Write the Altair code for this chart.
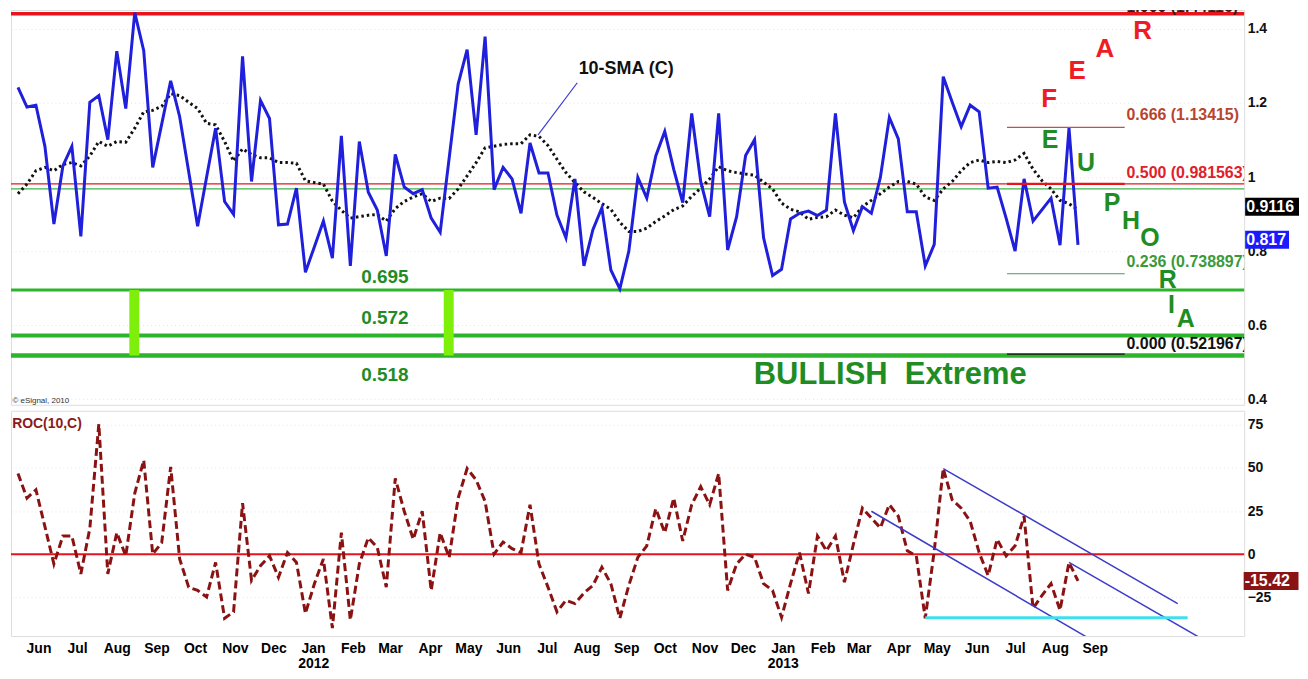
import altair as alt
import pandas as pd

START = "2011-05-16"  # first weekly bar

# ---- weekly series ----
price = [1.242, 1.189, 1.194, 1.083, 0.873, 1.030, 1.083, 0.840, 1.202, 1.220,
         1.101, 1.340, 1.185, 1.444, 1.341, 1.026, 1.143, 1.260, 1.163, 1.015,
         0.867, 1.000, 1.132, 0.934, 0.899, 1.326, 0.988, 1.207, 1.158, 0.871,
         0.873, 0.970, 0.743, 0.812, 0.881, 0.781, 1.111, 0.760, 1.096, 0.959,
         0.911, 0.787, 1.061, 0.973, 0.955, 0.966, 0.889, 0.851, 1.051, 1.251,
         1.344, 1.114, 1.379, 0.966, 1.026, 0.995, 0.902, 1.092, 1.011, 1.011,
         0.897, 0.836, 0.995, 0.760, 0.858, 0.917, 0.749, 0.698, 0.800, 0.999,
         0.943, 1.057, 1.123, 1.021, 0.931, 1.172, 0.988, 0.893, 1.172, 0.803,
         0.893, 1.058, 1.101, 0.836, 0.734, 0.751, 0.887, 0.902, 0.908, 0.896,
         0.911, 1.172, 0.933, 0.855, 0.920, 0.902, 0.999, 1.161, 1.103, 0.906,
         0.906, 0.760, 0.818, 1.271, 1.202, 1.136, 1.194, 1.176, 0.970, 0.973,
         0.889, 0.800, 0.995, 0.881, 0.912, 0.943, 0.816, 1.132, 0.817]

sma10 = [0.955, 0.981, 1.017, 1.026, 1.017, 1.034, 1.039, 1.030, 1.057, 1.096,
         1.083, 1.096, 1.094, 1.132, 1.176, 1.180, 1.191, 1.225, 1.220, 1.202,
         1.185, 1.145, 1.141, 1.096, 1.043, 1.076, 1.061, 1.052, 1.052, 1.039,
         1.039, 1.037, 0.990, 0.985, 0.981, 0.935, 0.910, 0.889, 0.893, 0.897,
         0.899, 0.881, 0.915, 0.934, 0.946, 0.955, 0.934, 0.943, 0.942, 0.968,
         1.003, 1.039, 1.079, 1.083, 1.088, 1.090, 1.090, 1.114, 1.110, 1.085,
         1.048, 1.012, 0.985, 0.960, 0.945, 0.928, 0.913, 0.878, 0.853, 0.853,
         0.862, 0.880, 0.895, 0.912, 0.922, 0.948, 0.970, 0.995, 1.028, 1.017,
         1.012, 1.008, 1.005, 0.986, 0.968, 0.930, 0.913, 0.906, 0.886, 0.891,
         0.893, 0.911, 0.897, 0.890, 0.920, 0.937, 0.955, 0.973, 0.988, 0.988,
         0.981, 0.946, 0.937, 0.968, 0.988, 1.017, 1.039, 1.046, 1.039, 1.042,
         1.039, 1.046, 1.064, 1.021, 0.990, 0.968, 0.937, 0.928, 0.9116]

roc10 = [46.7, 32.5, 37.3, 16.0, -5.6, 10.6, 10.6, -11.3, 15.0, 75.3,
         -11.3, 12.5, -0.9, 35.3, 54.4, 0.1, 6.7, 50.6, -2.7, -19.0,
         -20.9, -24.7, -4.7, -37.0, -33.3, 29.6, -15.1, -6.6, -0.9, -13.3,
         1.0, -4.7, -34.2, -17.0, -2.7, -42.7, 12.5, -38.0, -5.6, 9.6,
         3.9, -19.0, 43.9, 24.9, 8.7, 24.9, -20.9, 12.5, -1.8, 32.5,
         49.6, 43.0, 30.6, 0.1, 7.1, 3.3, 1.0, 28.7, -5.6, -19.0,
         -33.3, -26.6, -28.5, -22.4, -18.0, -7.5, -17.0, -37.0, -18.0, -1.8,
         4.9, 26.4, 12.5, 32.5, 7.7, 28.7, 39.1, 28.7, 46.7, -20.9,
         -5.6, 0.1, -1.8, -17.0, -20.9, -36.5, -17.0, 1.0, -22.7, 10.6,
         2.0, 10.6, -16.1, 5.8, 26.7, 21.0, 15.3, 28.7, 22.0, 2.0,
         -0.9, -37.0, 2.0, 49.6, 31.5, 26.7, 19.1, 1.0, -12.3, 8.7,
         -0.9, 4.9, 22.0, -31.3, -23.7, -17.0, -32.3, -4.7, -15.42]

month_ticks = ["2011-06-01", "2011-07-01", "2011-08-01", "2011-09-01", "2011-10-01",
               "2011-11-01", "2011-12-01", "2012-01-01", "2012-02-01", "2012-03-01",
               "2012-04-01", "2012-05-01", "2012-06-01", "2012-07-01", "2012-08-01",
               "2012-09-01", "2012-10-01", "2012-11-01", "2012-12-01", "2013-01-01",
               "2013-02-01", "2013-03-01", "2013-04-01", "2013-05-01", "2013-06-01",
               "2013-07-01", "2013-08-01", "2013-09-01"]
top_ticks = [0.4, 0.6, 0.8, 1.0, 1.2, 1.4]
bottom_ticks = [-25, 0, 25, 50, 75]

# horizontal levels across the whole top panel
level_values = [1.44116, 0.981563, 0.968, 0.695, 0.572, 0.518]
level_labels = ["0.695", "0.572", "0.518"]
level_label_v = [0.7294, 0.618, 0.4642]
level_label_week = 40.84

# lime vertical bars (weeks) between 0.695 and 0.518
bar_weeks = [12.95, 47.95]

# Fibonacci retracement (short lines at the right)
fib_levels = [1.13415, 0.981563, 0.738897, 0.521967]
fib_weeks = [110.1, 123.2]
fib_texts = ["1.000 (1.44116)", "0.666 (1.13415)", "0.500 (0.981563)",
             "0.236 (0.738897)", "0.000 (0.521967)"]
fib_text_v = [1.459, 1.1671, 1.0106, 0.7719, 0.549]
fib_text_week = 123.4

fear_letters = ["F", "E", "A", "R"]
fear_week = [114.8, 117.9, 121.0, 125.2]
fear_v = [1.2095, 1.2865, 1.3448, 1.3944]
euph_letters = ["E", "U", "P", "H", "O", "R", "I", "A"]
euph_week = [114.9, 118.9, 121.8, 123.9, 126.0, 128.0, 128.4, 130.0]
euph_v = [1.0989, 1.0371, 0.9310, 0.8814, 0.8355, 0.7220, 0.6552, 0.6162]

sma_note_week, sma_note_v = 67.7, 1.2918
sma_pointer_week = [62.26, 57.9]
sma_pointer_v = [1.2546, 1.1141]
bullish_week, bullish_v = 97.1, 0.4642

# ROC channel lines: (start week, start value, end week, end value)
chan_w1 = [103.0, 95.0, 117.0]
chan_v1 = [49.6, 24.9, -4.7]
chan_w2 = [129.1, 120.0, 132.5]
chan_v2 = [-28.5, -51.0, -51.0]
cyan_weeks = [101.0, 130.2]
cyan_v = -36.7

# ---------------------------------------------------------------
FONT = "Liberation Sans, Arial, Helvetica, sans-serif"
W, H1, H2 = 1237, 396, 226
RED = "#e8141b"
GREEN_LINE = "#2cb52c"
GREEN_TXT = "#1f8c24"


def wk(w):
    return pd.Timestamp(START) + pd.Timedelta(days=7 * w)


def dt(ts):
    return alt.DateTime(year=int(ts.year), month=int(ts.month), date=int(ts.day),
                        hours=int(ts.hour), minutes=int(ts.minute))


xscale = alt.Scale(domain=[dt(wk(-0.777)), dt(wk(136.5))])
y1scale = alt.Scale(domain=[0.385, 1.451], nice=False, zero=False)
y2scale = alt.Scale(domain=[-47.3, 83.0], nice=False, zero=False)

common_y_axis = dict(orient="right", title=None, ticks=False, domain=False,
                     labelFontSize=14, labelFontWeight="bold", labelColor="#111111",
                     labelPadding=3, labelFont=FONT, grid=True, gridColor="#e4e4e4",
                     gridDash=[1, 3], gridWidth=1)
y1axis = alt.Axis(values=top_ticks, format="~g", **common_y_axis)
y2axis = alt.Axis(values=bottom_ticks, format="d", **common_y_axis)

xaxis = alt.Axis(
    values=[dt(pd.Timestamp(m)) for m in month_ticks],
    labelExpr="month(datum.value) == 0 ? [timeFormat(datum.value, '%b'), timeFormat(datum.value, '%Y')] : timeFormat(datum.value, '%b')",
    title=None, ticks=False, domain=False, grid=False, labelFontSize=14,
    labelFontWeight="bold", labelColor="#000000", labelPadding=5, labelLineHeight=16,
    labelOverlap=False, labelFlush=False, labelBound=False, labelFont=FONT)


def X1(f):
    return alt.X(f, type="temporal", scale=xscale, axis=None)


def X2(f):
    return alt.X(f, type="temporal", scale=xscale, axis=xaxis)


def Y1(f):
    return alt.Y(f, type="quantitative", scale=y1scale, axis=y1axis)


def Y2(f):
    return alt.Y(f, type="quantitative", scale=y2scale, axis=y2axis)


series = pd.DataFrame({
    "date": [wk(i) for i in range(len(price))],
    "price": price, "sma": sma10, "roc": roc10,
})


def text_layer(weeks, values, texts, X, Y, **style):
    d = pd.DataFrame({"date": [wk(w) for w in weeks], "v": values, "t": texts})
    kw = dict(font=FONT, baseline="middle", fontWeight="bold")
    kw.update(style)
    return alt.Chart(d).mark_text(**kw).encode(x=X("date"), y=Y("v"), text="t:N")


def value_box(val, label, fill, width, center_px, yoff, Y):
    d = pd.DataFrame({"v": [val], "t": [label]})
    box = alt.Chart(d).mark_tick(orient="horizontal", size=width, thickness=18,
                                 color=fill, opacity=1, yOffset=yoff).encode(
        x=alt.value(center_px), y=Y("v"))
    txt = alt.Chart(d).mark_text(align="left", baseline="middle", color="white",
                                 fontSize=16, fontWeight="bold", font=FONT,
                                 yOffset=yoff).encode(
        x=alt.value(center_px - width / 2 + 1), y=Y("v"), text="t:N")
    return [box, txt]


# ------------------------- top panel ---------------------------
level_style = [(RED, 3.5), (RED, 1.2), ("#3cb44a", 1.2),
               (GREEN_LINE, 3), (GREEN_LINE, 4), (GREEN_LINE, 4.5)]
top_layers = []
for val, (c, w) in zip(level_values, level_style):
    top_layers.append(alt.Chart(pd.DataFrame({"v": [val]})).mark_rule(
        color=c, strokeWidth=w).encode(y=Y1("v")))

bars = pd.DataFrame({"date": [wk(w) for w in bar_weeks],
                     "v": [level_values[3]] * len(bar_weeks),
                     "v2": [level_values[5]] * len(bar_weeks)})
top_layers.append(alt.Chart(bars).mark_rule(color="#7def0a", strokeWidth=10).encode(
    x=X1("date"), y=Y1("v"), y2=alt.Y2("v2")))

top_layers.append(alt.Chart(series).mark_line(
    color="#111111", strokeWidth=3, strokeDash=[2.5, 3], clip=True).encode(
    x=X1("date"), y=Y1("sma")))
top_layers.append(alt.Chart(series).mark_line(
    color="#1f1fdc", strokeWidth=3, clip=True).encode(x=X1("date"), y=Y1("price")))

fib_style = [("#c0504d", 1.2), (RED, 2.2), ("#4f9a4f", 1.2), ("#111111", 1.2)]
for val, (c, w) in zip(fib_levels, fib_style):
    d = pd.DataFrame({"date": [wk(fib_weeks[0])], "date2": [wk(fib_weeks[1])], "v": [val]})
    top_layers.append(alt.Chart(d).mark_rule(color=c, strokeWidth=w).encode(
        x=X1("date"), x2=alt.X2("date2"), y=Y1("v")))

fib_text_colors = ["#3a1a14", "#b8452e", "#e0202a", "#3a9a3a", "#111111"]
for t, v, c in zip(fib_texts, fib_text_v, fib_text_colors):
    top_layers.append(text_layer([fib_text_week], [v], [t], X1, Y1, align="left",
                                 fontSize=16, color=c, clip=True))

top_layers.append(text_layer(fear_week, fear_v, fear_letters, X1, Y1,
                             align="center", fontSize=26, color="#ee1c24"))
top_layers.append(text_layer(euph_week, euph_v, euph_letters, X1, Y1,
                             align="center", fontSize=25, color=GREEN_TXT))
top_layers.append(text_layer([level_label_week] * 3, level_label_v, level_labels, X1, Y1,
                             align="center", fontSize=19, color=GREEN_TXT))
top_layers.append(text_layer([bullish_week], [bullish_v], ["BULLISH\u00a0 Extreme"], X1, Y1,
                             align="center", fontSize=31, color=GREEN_TXT))
top_layers.append(text_layer([sma_note_week], [sma_note_v], ["10-SMA (C)"], X1, Y1,
                             align="center", fontSize=18, color="#111111"))
pointer = pd.DataFrame({"date": [wk(sma_pointer_week[0])], "date2": [wk(sma_pointer_week[1])],
                        "v": [sma_pointer_v[0]], "v2": [sma_pointer_v[1]]})
top_layers.append(alt.Chart(pointer).mark_rule(color="#3a3ad6", strokeWidth=1.2).encode(
    x=X1("date"), x2=alt.X2("date2"), y=Y1("v"), y2=alt.Y2("v2")))
top_layers.append(text_layer([-0.62], [0.395], ["\u00a9 eSignal, 2010"], X1, Y1,
                             align="left", fontSize=8, fontWeight="normal", color="#333333"))

top_layers += value_box(sma10[-1], "0.9116", "#000000", 54, 1265, -3, Y1)
top_layers += value_box(price[-1], "0.817", "#1a1aff", 44, 1260, -5, Y1)

top = alt.layer(*top_layers).properties(width=W, height=H1)

# ------------------------- bottom panel ------------------------
bot_layers = []
bot_layers.append(alt.Chart(pd.DataFrame({"v": [0]})).mark_rule(
    color=RED, strokeWidth=2).encode(y=Y2("v")))
bot_layers.append(alt.Chart(series).mark_line(
    color="#8b1212", strokeWidth=3, strokeDash=[8, 4], clip=True).encode(
    x=X2("date"), y=Y2("roc")))
chan = pd.DataFrame({"date": [wk(w) for w in chan_w1], "date2": [wk(w) for w in chan_w2],
                     "v": chan_v1, "v2": chan_v2})
bot_layers.append(alt.Chart(chan).mark_rule(color="#3c3cc8", strokeWidth=1.5, clip=True).encode(
    x=X2("date"), x2=alt.X2("date2"), y=Y2("v"), y2=alt.Y2("v2")))
cyan = pd.DataFrame({"date": [wk(cyan_weeks[0])], "date2": [wk(cyan_weeks[1])], "v": [cyan_v]})
bot_layers.append(alt.Chart(cyan).mark_rule(color="#3fe0ee", strokeWidth=3).encode(
    x=X2("date"), x2=alt.X2("date2"), y=Y2("v")))
bot_layers.append(text_layer([-0.65], [75.5], ["ROC(10,C)"], X2, Y2,
                             align="left", fontSize=14, color="#8b1a1a"))
bot_layers += value_box(roc10[-1], "-15.42", "#8a1414", 55, 1264, 0, Y2)

bottom = alt.layer(*bot_layers).properties(width=W, height=H2)

chart = alt.vconcat(top, bottom, spacing=3).properties(
    padding={"left": 0, "right": 0, "top": 0, "bottom": 0}
).configure_view(stroke="#8a8a8a", strokeWidth=1.5).configure(font=FONT)

chart.save("out.html", embed_options={"renderer": "svg", "actions": False})
